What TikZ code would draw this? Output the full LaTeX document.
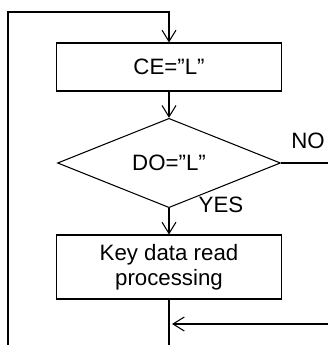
\documentclass[tikz,border=0pt]{standalone}
\usepackage{fontspec}
\setmainfont{Liberation Sans}
\usetikzlibrary{shapes.geometric,arrows.meta}

\begin{document}
\begin{tikzpicture}[x=0.03cm, y=-0.03cm, line width=0.9pt,
    >={Straight Barb[length=3.4mm,width=4.2mm]},
    every node/.style={font=\fontsize{19}{21}\selectfont},
    procbox/.style={draw, rectangle, minimum width=6.75cm, minimum height=1.44cm, align=center},
    testbox/.style={draw, diamond, minimum width=6.69cm, minimum height=2.37cm, inner sep=0pt}]
    \useasboundingbox (0,0) rectangle (328,345);
    % boxes
    \node[procbox] (ce) at (169,67) {CE=”L”};
    \node[testbox] (do) at (169,163) {DO=”L”};
    \node[procbox, minimum height=1.92cm] (key) at (169,267) {Key data read\\processing};
    % free ends
    \coordinate (loopbot) at (8,345);
    \coordinate (looptop) at (169,12);
    \coordinate (noend) at (328,163);
    \coordinate (retin) at (328,324);
    \coordinate (retjoin) at (172,324);
    \coordinate (flowend) at (169,345);
    % connectors
    \draw[->] (loopbot) |- (looptop) -- (ce.north);
    \draw[->] (ce.south) -- (do.north);
    \draw[->] (do.south) -- (key.north);
    \draw (do.east) -- (noend);
    \draw (key.south) -- (flowend);
    \draw[->] (retin) -- (retjoin);
    % labels
    \node (nolabel) at (308,141) {NO};
    \node (yeslabel) at (221,205) {YES};
\end{tikzpicture}
\end{document}
